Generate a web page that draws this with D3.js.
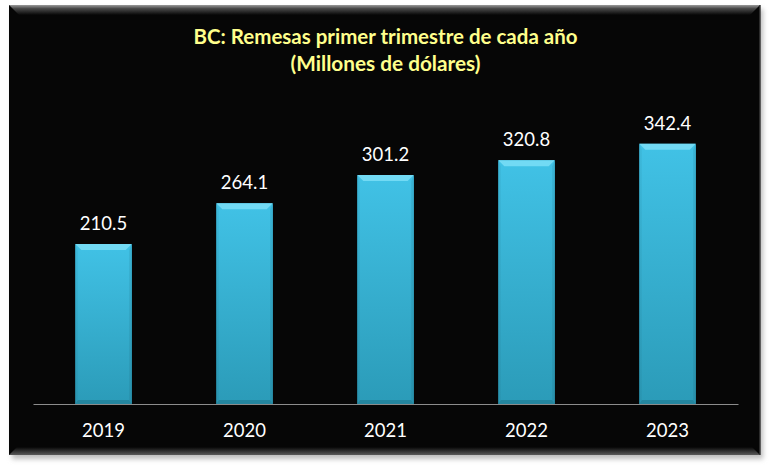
<!DOCTYPE html>
<html>
<head>
<meta charset="utf-8">
<style>
  body { margin: 0; background: #fff; }
  svg { display: block; }
</style>
<title>BC: Remesas primer trimestre</title>
</head>
<body>
<script src="https://cdn.jsdelivr.net/npm/d3@7"></script>
<script>

// data //////////////////////////////////////////////////////////////////
var years  = ["2019", "2020", "2021", "2022", "2023"];
var values = [210.5, 264.1, 301.2, 320.8, 342.4];
var title  = ["BC: Remesas primer trimestre de cada año", "(Millones de dólares)"];

// layout ////////////////////////////////////////////////////////////////
var W = 770, H = 470;
var panel = {x0: 9, y0: 5, x1: 760, y1: 455};

var svg = d3.select('body').append('svg')
	.attr('width', W)
	.attr('height', H);

var defs = svg.append('defs');

function vgrad(id, stops) {
	var g = defs.append('linearGradient').attr('id', id)
		.attr('x1', 0).attr('y1', 0).attr('x2', 0).attr('y2', 1);
	stops.forEach(s => g.append('stop').attr('offset', s[0]).attr('stop-color', s[1]));
}
vgrad('face',   [[0, '#41c2e6'], [1, '#2b9bb8']]);
vgrad('side',   [[0, '#3ab3d4'], [1, '#2890ab']]);
vgrad('ptop',   [[0, '#9a9a9a'], [0.35, '#4a4a4a'], [1, '#060606']]);
vgrad('pbot',   [[0, '#060606'], [1, '#5a5a5a']]);
defs.append('filter').attr('id', 'shadow')
	.append('feGaussianBlur').attr('stdDeviation', 2.5);

// panel /////////////////////////////////////////////////////////////////
svg.append('rect')
	.attr('x', panel.x0 + 3).attr('y', panel.y0 + 4)
	.attr('width', panel.x1 - panel.x0).attr('height', panel.y1 - panel.y0)
	.attr('fill', '#bdbdbd')
	.attr('filter', 'url(#shadow)');

svg.append('rect')
	.attr('x', panel.x0).attr('y', panel.y0)
	.attr('width', panel.x1 - panel.x0).attr('height', panel.y1 - panel.y0)
	.attr('fill', '#060606');

var pb = 10;
svg.append('polygon')
	.attr('points', [[panel.x0, panel.y0], [panel.x1, panel.y0], [panel.x1 - pb, panel.y0 + pb], [panel.x0 + pb, panel.y0 + pb]].join(' '))
	.attr('fill', 'url(#ptop)');
svg.append('polygon')
	.attr('points', [[panel.x0, panel.y1], [panel.x1, panel.y1], [panel.x1 - 8, panel.y1 - 8], [panel.x0 + 8, panel.y1 - 8]].join(' '))
	.attr('fill', 'url(#pbot)');
svg.append('line')
	.attr('x1', panel.x1).attr('x2', panel.x1)
	.attr('y1', panel.y0).attr('y2', panel.y1)
	.attr('stroke', '#3a3a3a').attr('stroke-width', 1.5);

// title /////////////////////////////////////////////////////////////////
svg.append('g').selectAll('text')
	.data(title)
	.join('text')
		.attr('x', 385.5)
		.attr('y', (d, i) => 44 + i * 27)
		.attr('text-anchor', 'middle')
		.attr('font-family', 'Lato, "Open Sans", sans-serif')
		.attr('font-weight', 'bold')
		.attr('font-size', 20)
		.attr('fill', '#ffff8c')
		.attr('textLength', (d, i) => i == 0 ? 384 : 190)
		.attr('lengthAdjust', 'spacingAndGlyphs')
		.text(d => d);

// scales ////////////////////////////////////////////////////////////////
var x = d3.scaleBand()
	.domain(years)
	.range([33, 738])
	.paddingInner(0.6)
	.paddingOuter(0.3);

var y = d3.scaleLinear()
	.domain([0, 400])
	.range([404, 100]);

// bars //////////////////////////////////////////////////////////////////
var data = years.map((yr, i) => ({year: yr, value: values[i]}));
var b = 6, s = 2.5;

svg.append('g').selectAll('g')
	.data(data)
	.join('g')
	.call(g => {
		g.append('rect')
			.attr('x', d => x(d.year))
			.attr('y', d => y(d.value))
			.attr('width', x.bandwidth())
			.attr('height', d => y(0) - y(d.value))
			.attr('fill', 'url(#face)');
		// right bevel
		g.append('polygon')
			.attr('points', d => {
				var x1 = x(d.year) + x.bandwidth(), t = y(d.value), z = y(0);
				return [[x1, t], [x1, z], [x1 - s, z - 4], [x1 - s, t + b]].join(' ');
			})
			.attr('fill', 'url(#side)');
		// left bevel
		g.append('polygon')
			.attr('points', d => {
				var x0 = x(d.year), t = y(d.value), z = y(0);
				return [[x0, t], [x0 + s, t + b], [x0 + s, z - 4], [x0, z]].join(' ');
			})
			.attr('fill', 'url(#side)')
			.attr('opacity', 0.6);
		// top bevel
		g.append('polygon')
			.attr('points', d => {
				var x0 = x(d.year), x1 = x0 + x.bandwidth(), t = y(d.value);
				return [[x0, t], [x1, t], [x1 - b, t + b], [x0 + b, t + b]].join(' ');
			})
			.attr('fill', '#72daf4');
		// bottom bevel
		g.append('polygon')
			.attr('points', d => {
				var x0 = x(d.year), x1 = x0 + x.bandwidth(), z = y(0);
				return [[x0, z], [x0 + s, z - 4], [x1 - s, z - 4], [x1, z]].join(' ');
			})
			.attr('fill', '#24869f');
		g.append('text')
			.attr('x', d => x(d.year) + x.bandwidth() / 2)
			.attr('y', d => y(d.value) - 14)
			.attr('text-anchor', 'middle')
			.attr('font-family', 'Lato, "Open Sans", sans-serif')
			.attr('font-size', 18.5)
			.attr('fill', '#ffffff')
			.text(d => d3.format('.1f')(d.value));
	});

// axis //////////////////////////////////////////////////////////////////
svg.append('g')
	.attr('transform', `translate(0,${y(0)})`)
	.call(d3.axisBottom(x).tickSize(0).tickPadding(20))
	.call(g => g.select('.domain').attr('stroke', '#8c8c8c').attr('stroke-width', 1.2))
	.call(g => g.selectAll('text')
		.attr('font-family', 'Lato, "Open Sans", sans-serif')
		.attr('font-size', 18.5)
		.attr('fill', '#ffffff'));

</script>
</body>
</html>
